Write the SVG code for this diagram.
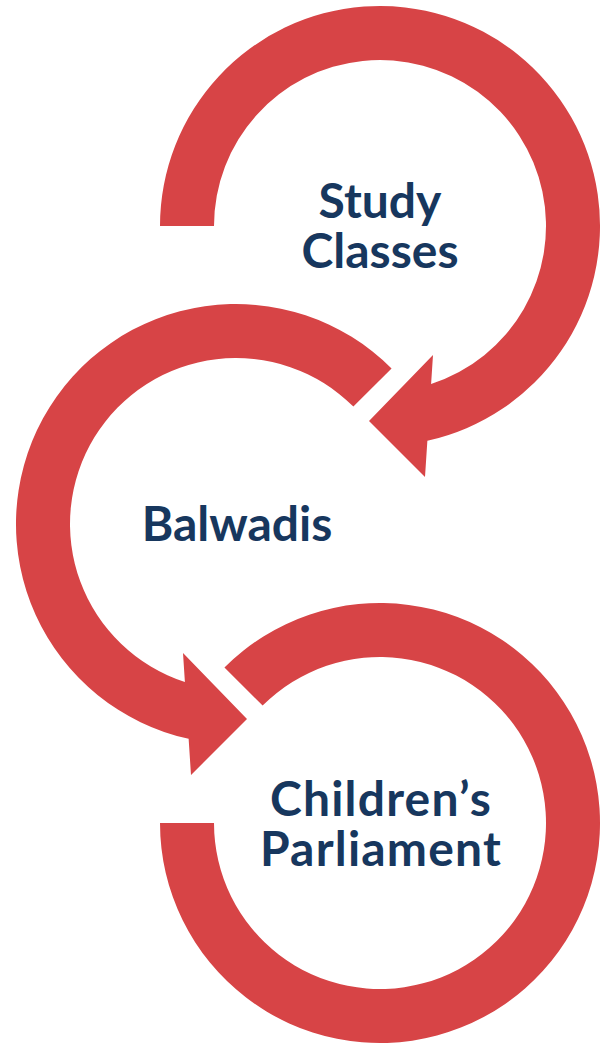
<svg xmlns="http://www.w3.org/2000/svg" width="600" height="1045" viewBox="0 0 600 1045">
  <style>
    .arc { fill: #D74446; stroke: none; }
    .label { font-family: Lato, "Open Sans", "Liberation Sans", sans-serif; font-weight: 700; font-size: 48px; fill: #17375E; text-anchor: middle; }
    .wide { letter-spacing: 1.2px; }
  </style>
  <rect width="600" height="1045" fill="#FFFFFF"/>
  <g id="connectors">
    <path id="arrow-study" class="arc" d="M160,226 A220,220 0 1 1 427.37,440.84 L425,477 L369,421 L433,355 L431.1,383.94 A166,166 0 1 0 214,226 Z"/>
    <path id="arrow-balwadis" class="arc" d="M391.56,368.44 A220,220 0 1 0 188.63,738.84 L191,775 L247,719 L183,653 L184.9,681.94 A166,166 0 1 1 353.38,406.62 Z"/>
    <path id="arrow-parliament" class="arc" d="M224.44,667.44 A220,220 0 1 1 160,823 L214,823 A166,166 0 1 0 262.62,705.62 Z"/>
  </g>
  <g id="node-study-classes">
    <text class="label" x="380" y="218">Study</text>
    <text class="label" x="380" y="268">Classes</text>
  </g>
  <g id="node-balwadis">
    <text class="label" x="237" y="541">Balwadis</text>
  </g>
  <g id="node-childrens-parliament">
    <text class="label wide" x="381" y="816">Children’s</text>
    <text class="label wide" x="381" y="866">Parliament</text>
  </g>
</svg>
